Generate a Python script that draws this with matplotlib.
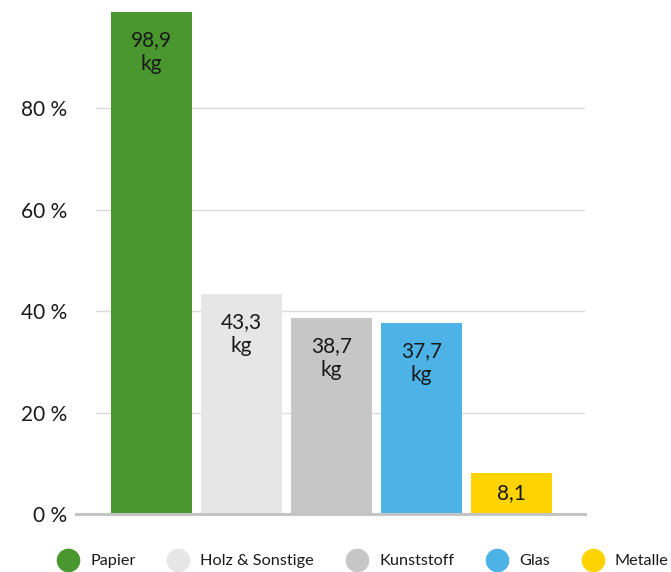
import matplotlib.pyplot as plt

# Abfallmengen pro Kopf (kg) nach Fraktion
categories = ['Papier', 'Holz & Sonstige', 'Kunststoff', 'Glas', 'Metalle']
values = [98.9, 43.3, 38.7, 37.7, 8.1]
labels = ['98,9\nkg', '43,3\nkg', '38,7\nkg', '37,7\nkg', '8,1']
colors = ['#4a962f', '#e6e6e6', '#c6c6c6', '#4db3e6', '#ffd300']
yticks = [0, 20, 40, 60, 80]
ytick_labels = ['0 %', '20 %', '40 %', '60 %', '80 %']

plt.rcParams['font.family'] = ['Lato', 'DejaVu Sans']
text_col = '#1a1a1a'

fig = plt.figure(figsize=(6.71, 5.72), dpi=100)
ax = fig.add_axes([96/671, 58/572, 489/671, 514/572])

x = list(range(len(values)))
ax.bar(x, values, width=0.9, color=colors, zorder=2)

# labels inside the bars, at the top (short bar: centred)
for xi, v, lab in zip(x, values, labels):
    if '\n' in lab:
        ax.annotate(lab, (xi, v), xytext=(0, -13), textcoords='offset points',
                    ha='center', va='top', fontsize=15, color=text_col,
                    linespacing=1.25, zorder=3)
    else:
        ax.text(xi, v / 2, lab, ha='center', va='center', fontsize=15,
                color=text_col, zorder=3)

ax.set_xlim(-0.617, 4.82)
ax.set_ylim(0, 101.3)

ax.set_yticks(yticks)
ax.set_yticklabels(ytick_labels, fontsize=15, color=text_col)
ax.tick_params(axis='y', length=0, pad=21)
ax.set_xticks([])
for s in ax.spines.values():
    s.set_visible(False)

for t in yticks[1:]:
    ax.axhline(t, color='#dadada', lw=1, zorder=1)
# baseline reaches a bit further left than the grid
ax.plot([-20/489, 1], [0, 0], transform=ax.transAxes, color='#c4c4c4',
        lw=2.2, clip_on=False, zorder=3)

handles = [plt.Line2D([], [], marker='o', ls='', markersize=16,
                      markerfacecolor=c, markeredgecolor=c) for c in colors]
fig.legend(handles, categories, loc='center left', ncol=5, frameon=False,
           bbox_to_anchor=(51/671, 11/572), fontsize=11.7,
           handlelength=1.05, handletextpad=0.85, columnspacing=2.1,
           borderpad=0, labelcolor=text_col)

fig.savefig('out.png', dpi=100)
